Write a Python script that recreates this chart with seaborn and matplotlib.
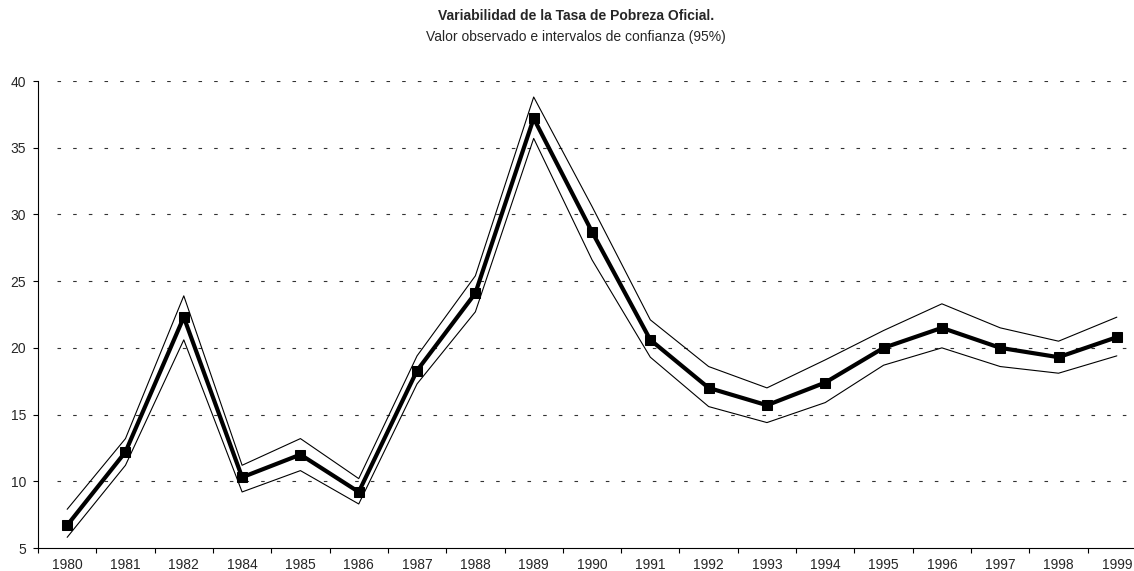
import numpy as np
import pandas as pd
import matplotlib
matplotlib.use("Agg")
import matplotlib.pyplot as plt
import seaborn as sns

# Data
years = ["1980", "1981", "1982", "1984", "1985", "1986", "1987", "1988", "1989", "1990",
         "1991", "1992", "1993", "1994", "1995", "1996", "1997", "1998", "1999"]
observed = [6.7, 12.2, 22.3, 10.3, 12.0, 9.2, 18.3, 24.1, 37.2, 28.7,
            20.6, 17.0, 15.7, 17.4, 20.0, 21.5, 20.0, 19.3, 20.8]
upper = [7.9, 13.2, 23.9, 11.2, 13.2, 10.2, 19.4, 25.4, 38.8, 30.6,
         22.1, 18.6, 17.0, 19.1, 21.3, 23.3, 21.5, 20.5, 22.3]
lower = [5.8, 11.2, 20.6, 9.2, 10.8, 8.3, 17.3, 22.7, 35.7, 26.6,
         19.3, 15.6, 14.4, 15.9, 18.7, 20.0, 18.6, 18.1, 19.4]
yticks = [5, 10, 15, 20, 25, 30, 35, 40]

df = pd.DataFrame({"pos": np.arange(len(years)), "year": years,
                   "observed": observed, "upper": upper, "lower": lower})

sns.set_style("white")
plt.rcParams["font.family"] = ["Liberation Sans", "DejaVu Sans"]

W, H = 1134, 571
fig = plt.figure(figsize=(W / 100, H / 100), dpi=100)
# axes spans x 38..1146 px (right end slightly outside the picture), y 81..548 px
ax = fig.add_axes([38 / W, (H - 548) / H, 1108 / W, 467 / H])

for col in ["upper", "lower"]:
    sns.lineplot(data=df, x="pos", y=col, ax=ax, color="black", linewidth=0.8, sort=False)
sns.lineplot(data=df, x="pos", y="observed", ax=ax, color="black", linewidth=3,
             marker="s", markersize=7, markeredgecolor="black", sort=False)

ax.set_xlim(-0.5, len(years) - 0.5)
ax.set_ylim(5, 40)

# dashed horizontal gridlines, starting a bit right of the y axis
for y in yticks[1:]:
    ax.axhline(y, xmin=19 / 1108, xmax=1, color="#333333", linewidth=0.8,
               linestyle=(0, (3.2, 10.9)), zorder=0)

ax.set_yticks(yticks)
ax.set_yticklabels([str(v) for v in yticks])
ax.set_xticks(np.arange(len(years) + 1) - 0.5)
ax.set_xticklabels([])
ax.set_xticks(np.arange(len(years)), minor=True)
ax.set_xticklabels(years, minor=True)
ax.tick_params(axis="x", which="major", bottom=True, length=3.6, width=0.8,
               direction="out", color="black")
ax.tick_params(axis="x", which="minor", bottom=True, length=0, pad=7, labelsize=10)
ax.tick_params(axis="y", left=True, length=3.6, width=0.8, direction="out",
               color="black", pad=5, labelsize=10)

for s in ["top", "right"]:
    ax.spines[s].set_visible(False)
for s in ["left", "bottom"]:
    ax.spines[s].set_color("black")
    ax.spines[s].set_linewidth(0.8)

ax.set_xlabel("")
ax.set_ylabel("")

fig.text(576 / W, 1 - 16 / H, "Variabilidad de la Tasa de Pobreza Oficial.",
         ha="center", va="center", fontsize=10, fontweight="bold")
fig.text(576 / W, 1 - 37 / H, "Valor observado e intervalos de confianza (95%)",
         ha="center", va="center", fontsize=10)

fig.savefig("out.png", dpi=100)
